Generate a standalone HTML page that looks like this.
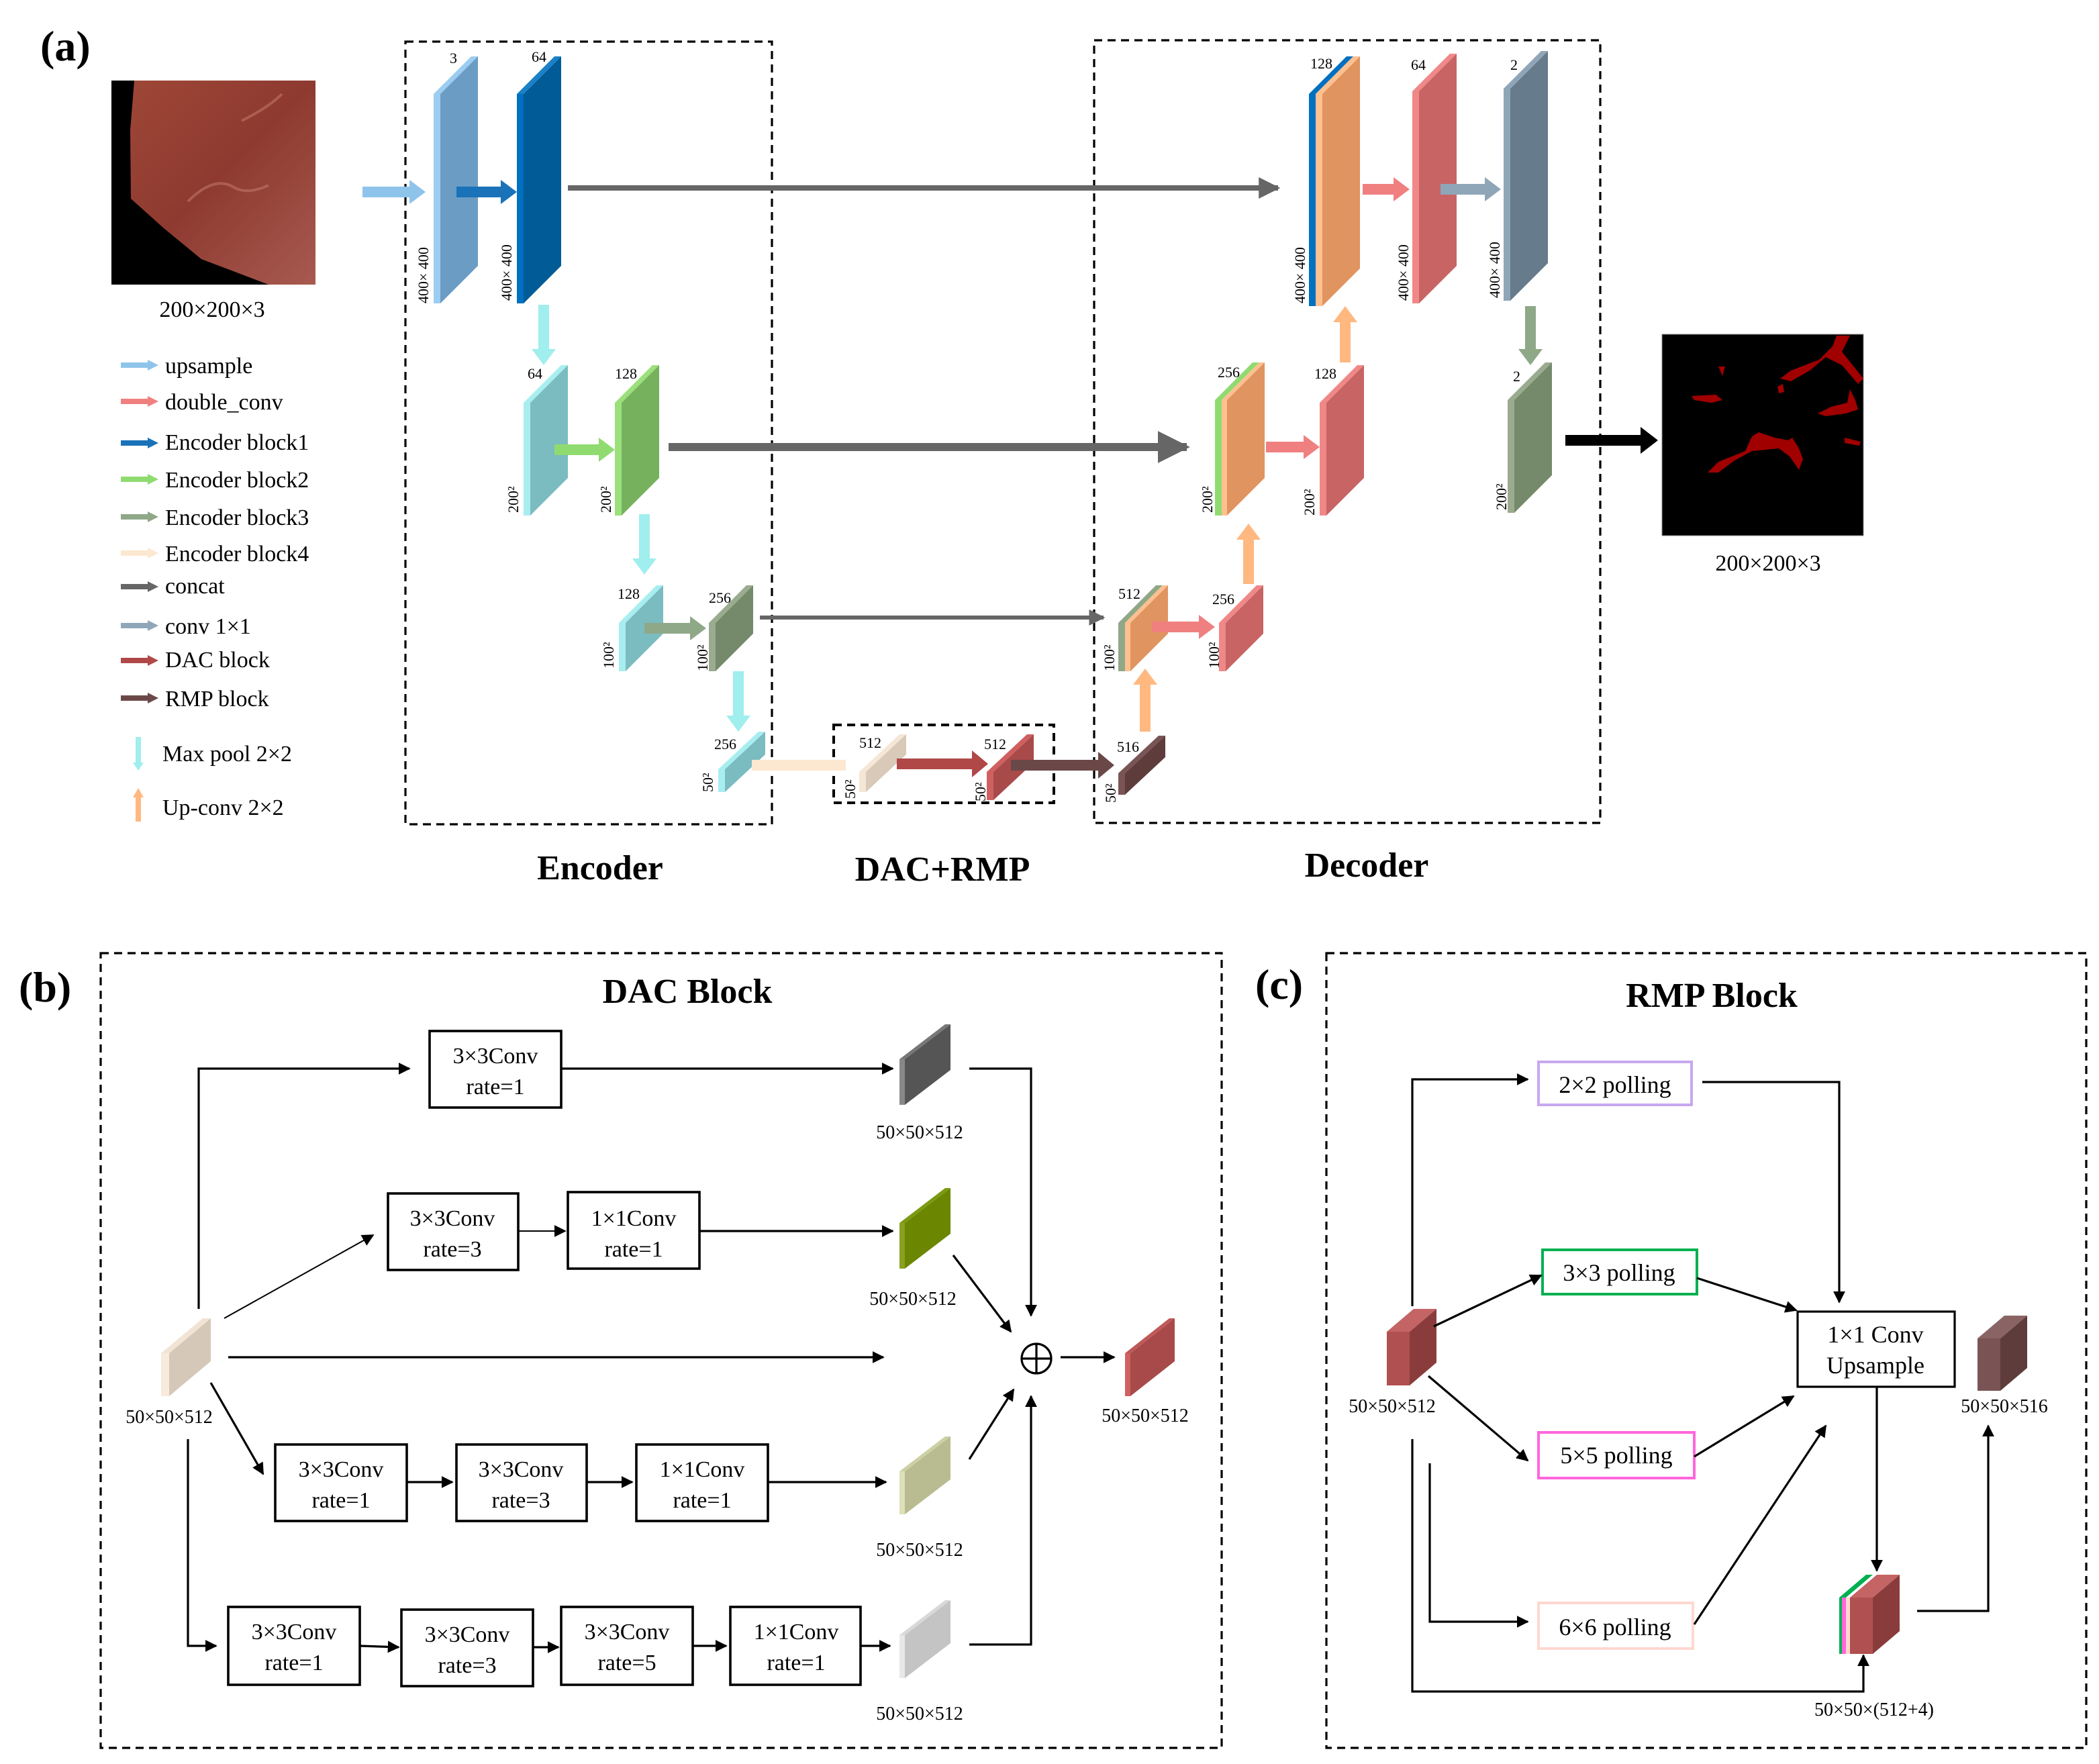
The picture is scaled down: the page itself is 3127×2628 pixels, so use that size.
<!DOCTYPE html>
<html><head><meta charset="utf-8"><style>
html,body{margin:0;padding:0;background:#fff;}
svg{display:block;}
text{font-family:"Liberation Serif",serif;fill:#000;}
</style></head><body>
<svg width="3127" height="2628" viewBox="0 0 1563.5 1314" xmlns="http://www.w3.org/2000/svg">
<defs>
<marker id="ah" viewBox="0 0 10 10" refX="9" refY="5" markerWidth="9" markerHeight="9" markerUnits="userSpaceOnUse" orient="auto"><path d="M0,0 L10,5 L0,10 z" fill="#000"/></marker>
<marker id="ag" viewBox="0 0 10 10" refX="9" refY="5" markerWidth="4" markerHeight="4" orient="auto"><path d="M0,0 L10,5 L0,10 z" fill="#666"/></marker>
<linearGradient id="liver" x1="0" y1="0" x2="1" y2="1"><stop offset="0" stop-color="#a04838"/><stop offset="0.5" stop-color="#8e3a30"/><stop offset="1" stop-color="#a85a50"/></linearGradient>
</defs>
<rect width="1563.5" height="1314" fill="#fff"/>

<text x="30" y="45" font-size="32" font-weight="bold">(a)</text>
<rect x="83" y="60" width="152" height="152" fill="url(#liver)"/>
<path d="M83,60 L100,60 L97,97 L97.5,148 L122,170 L150,193 L200,212 L83,212 Z" fill="#000"/>
<path d="M140,150 Q160,130 175,140 Q185,145 200,138 M180,90 Q200,80 210,70" stroke="#c88070" stroke-width="2" fill="none" opacity="0.5"/>
<text x="158" y="236" font-size="17" text-anchor="middle">200×200×3</text>

<g stroke-width="4">
<line x1="90" y1="272" x2="112" y2="272" stroke="#8ec4ea"/><polygon points="110,268 118,272 110,276" fill="#8ec4ea"/>
<line x1="90" y1="299" x2="112" y2="299" stroke="#f08080"/><polygon points="110,295 118,299 110,303" fill="#f08080"/>
<line x1="90" y1="330" x2="112" y2="330" stroke="#1a72b8"/><polygon points="110,326 118,330 110,334" fill="#1a72b8"/>
<line x1="90" y1="357" x2="112" y2="357" stroke="#8fdb70"/><polygon points="110,353 118,357 110,361" fill="#8fdb70"/>
<line x1="90" y1="385" x2="112" y2="385" stroke="#8fa888"/><polygon points="110,381 118,385 110,389" fill="#8fa888"/>
<line x1="90" y1="412" x2="112" y2="412" stroke="#fce8d0"/><polygon points="110,408 118,412 110,416" fill="#fce8d0"/>
<line x1="90" y1="437" x2="112" y2="437" stroke="#666"/><polygon points="110,433 118,437 110,441" fill="#666"/>
<line x1="90" y1="466" x2="112" y2="466" stroke="#8ea6b8"/><polygon points="110,462 118,466 110,470" fill="#8ea6b8"/>
<line x1="90" y1="492" x2="112" y2="492" stroke="#b04848"/><polygon points="110,488 118,492 110,496" fill="#b04848"/>
<line x1="90" y1="520" x2="112" y2="520" stroke="#6b4848"/><polygon points="110,516 118,520 110,524" fill="#6b4848"/>
<line x1="103" y1="549" x2="103" y2="570" stroke="#a0eeee"/><polygon points="99,568 103,574 107,568" fill="#a0eeee"/>
<line x1="103" y1="592" x2="103" y2="612" stroke="#ffb880"/><polygon points="99,594 103,587 107,594" fill="#ffb880"/>
</g>
<g font-size="17">
<text x="123" y="278">upsample</text>
<text x="123" y="305">double_conv</text>
<text x="123" y="335">Encoder block1</text>
<text x="123" y="363">Encoder block2</text>
<text x="123" y="391">Encoder block3</text>
<text x="123" y="418">Encoder block4</text>
<text x="123" y="442">concat</text>
<text x="123" y="472">conv 1×1</text>
<text x="123" y="497">DAC block</text>
<text x="123" y="526">RMP block</text>
<text x="121" y="567">Max pool 2×2</text>
<text x="121" y="607">Up-conv 2×2</text>
</g>

<g fill="none" stroke="#000" stroke-width="1.6" stroke-dasharray="6,4">
<rect x="302" y="31" width="273" height="583"/>
<rect x="815" y="30" width="377" height="583"/>
<rect x="621" y="540" width="164" height="58" stroke-width="2"/>
</g>
<g font-size="26" font-weight="bold" text-anchor="middle">
<text x="447" y="655">Encoder</text>
<text x="702" y="656">DAC+RMP</text>
<text x="1018" y="653">Decoder</text>
</g>

<line x1="423" y1="140" x2="952" y2="140" stroke="#666" stroke-width="4" marker-end="url(#ag)"/>
<line x1="498" y1="333" x2="884" y2="333" stroke="#666" stroke-width="6" marker-end="url(#ag)"/>
<line x1="566" y1="460" x2="822" y2="460" stroke="#666" stroke-width="3" marker-end="url(#ag)"/>

<polygon points="323,70 328,70 328,226 323,226" fill="#9ccdf0"/><polygon points="323,70 351,42 356,42 328,70" fill="#9ccdf0"/><polygon points="328,70 356,42 356,198 328,226" fill="#6b9cc4"/>
<polygon points="385,70 390,70 390,226 385,226" fill="#0070c0"/><polygon points="385,70 413,42 418,42 390,70" fill="#1a80c8"/><polygon points="390,70 418,42 418,198 390,226" fill="#005b96"/>
<polygon points="390,300 395,300 395,384 390,384" fill="#a8eef0"/><polygon points="390,300 418,272 423,272 395,300" fill="#a8eef0"/><polygon points="395,300 423,272 423,356 395,384" fill="#7bbcc0"/>
<polygon points="458,300 463,300 463,384 458,384" fill="#9be07a"/><polygon points="458,300 486,272 491,272 463,300" fill="#9be07a"/><polygon points="463,300 491,272 491,356 463,384" fill="#76b25e"/>
<polygon points="461,464 466,464 466,500 461,500" fill="#a8eef0"/><polygon points="461,464 489,436 494,436 466,464" fill="#a8eef0"/><polygon points="466,464 494,436 494,472 466,500" fill="#7bbcc0"/>
<polygon points="528,464 533,464 533,500 528,500" fill="#9aab90"/><polygon points="528,464 556,436 561,436 533,464" fill="#9aab90"/><polygon points="533,464 561,436 561,472 533,500" fill="#748a6a"/>
<polygon points="535,573 540,573 540,590 535,590" fill="#a8eef0"/><polygon points="535,573 565,545 570,545 540,573" fill="#a8eef0"/><polygon points="540,573 570,545 570,562 540,590" fill="#7bbcc0"/>
<polygon points="640,575 645,575 645,590 640,590" fill="#f5e6d5"/><polygon points="640,575 670,547 675,547 645,575" fill="#f5e6d5"/><polygon points="645,575 675,547 675,562 645,590" fill="#d8c9b8"/>
<polygon points="735,575 740,575 740,596 735,596" fill="#d06060"/><polygon points="735,575 765,547 770,547 740,575" fill="#d06060"/><polygon points="740,575 770,547 770,568 740,596" fill="#a84a4a"/>
<polygon points="833,576 838,576 838,592 833,592" fill="#7a5454"/><polygon points="833,576 863,548 868,548 838,576" fill="#7a5454"/><polygon points="838,576 868,548 868,564 838,592" fill="#5e3c3c"/>
<polygon points="833,464 838,464 838,500 833,500" fill="#8fa888"/><polygon points="833,464 861,436 866,436 838,464" fill="#8fa888"/>
<polygon points="838,464 842,464 842,500 838,500" fill="#ffc090"/><polygon points="838,464 866,436 870,436 842,464" fill="#ffc090"/><polygon points="842,464 870,436 870,472 842,500" fill="#e09460"/>
<polygon points="908,464 913,464 913,500 908,500" fill="#f08888"/><polygon points="908,464 936,436 941,436 913,464" fill="#f08888"/><polygon points="913,464 941,436 941,472 913,500" fill="#c86464"/>
<polygon points="905,298 910,298 910,384 905,384" fill="#8fdb70"/><polygon points="905,298 933,270 938,270 910,298" fill="#8fdb70"/>
<polygon points="910,298 914,298 914,384 910,384" fill="#ffc090"/><polygon points="910,298 938,270 942,270 914,298" fill="#ffc090"/><polygon points="914,298 942,270 942,356 914,384" fill="#e09460"/>
<polygon points="983,300 988,300 988,384 983,384" fill="#f08888"/><polygon points="983,300 1011,272 1016,272 988,300" fill="#f08888"/><polygon points="988,300 1016,272 1016,356 988,384" fill="#c86464"/>
<polygon points="975,70 980,70 980,228 975,228" fill="#0070c0"/><polygon points="975,70 1003,42 1008,42 980,70" fill="#0070c0"/>
<polygon points="980,70 985,70 985,228 980,228" fill="#ffc090"/><polygon points="980,70 1008,42 1013,42 985,70" fill="#ffc090"/><polygon points="985,70 1013,42 1013,200 985,228" fill="#e09460"/>
<polygon points="1052,68 1057,68 1057,226 1052,226" fill="#f08888"/><polygon points="1052,68 1080,40 1085,40 1057,68" fill="#f08888"/><polygon points="1057,68 1085,40 1085,198 1057,226" fill="#c86464"/>
<polygon points="1120,66 1125,66 1125,224 1120,224" fill="#8fa6b8"/><polygon points="1120,66 1148,38 1153,38 1125,66" fill="#8fa6b8"/><polygon points="1125,66 1153,38 1153,196 1125,224" fill="#667b8c"/>
<polygon points="1123,298 1128,298 1128,382 1123,382" fill="#9aab90"/><polygon points="1123,298 1151,270 1156,270 1128,298" fill="#9aab90"/><polygon points="1128,298 1156,270 1156,354 1128,382" fill="#748a6a"/>

<polygon points="270,139 305,139 305,134 317,143 305,152 305,147 270,147" fill="#8ec4ea"/>
<polygon points="340,139 373,139 373,134 385,143 373,152 373,147 340,147" fill="#1a72b8"/>
<polygon points="401,227 409,227 409,260 414,260 405,272 396,260 401,260" fill="#a0eeee"/>
<polygon points="476,383 484,383 484,416 489,416 480,428 471,416 476,416" fill="#a0eeee"/>
<polygon points="546,500 554,500 554,533 559,533 550,545 541,533 546,533" fill="#a0eeee"/>
<polygon points="413,331 446,331 446,326 458,335 446,344 446,339 413,339" fill="#8fdb70"/>
<polygon points="480,464 514,464 514,459 526,468 514,477 514,472 480,472" fill="#8fa888"/>
<rect x="560" y="566" width="70" height="8" fill="#fce8d0"/>
<polygon points="668,565 724,565 724,559 736,569 724,579 724,573 668,573" fill="#b04848"/>
<polygon points="753,566 818,566 818,560 830,570 818,580 818,574 753,574" fill="#6b4848"/>
<polygon points="849,545 857,545 857,510 862,510 853,498 844,510 849,510" fill="#ffb880"/>
<polygon points="926,435 934,435 934,402 939,402 930,390 921,402 926,402" fill="#ffb880"/>
<polygon points="998,270 1006,270 1006,240 1011,240 1002,228 993,240 998,240" fill="#ffb880"/>
<polygon points="858,463 893,463 893,458 905,467 893,476 893,471 858,471" fill="#f08080"/>
<polygon points="943,329 971,329 971,324 983,333 971,342 971,337 943,337" fill="#f08080"/>
<polygon points="1015,137 1038,137 1038,132 1050,141 1038,150 1038,145 1015,145" fill="#f08080"/>
<polygon points="1073,137 1106,137 1106,132 1118,141 1106,150 1106,145 1073,145" fill="#8ea6b8"/>
<polygon points="1136,228 1144,228 1144,260 1149,260 1140,272 1131,260 1136,260" fill="#8fa888"/>
<polygon points="1166,324 1222,324 1222,318 1235,328 1222,338 1222,332 1166,332" fill="#000"/>

<rect x="1238" y="249" width="150" height="150" fill="#000" stroke="#888" stroke-width="0.5"/>
<g fill="#a00000">
<path d="M1272,352 L1280,344 L1300,336 L1305,325 L1310,322 L1322,326 L1332,328 L1335,326 L1340,334 L1343,342 L1340,350 L1333,340 L1325,334 L1305,336 L1292,343 L1280,352 Z"/>
<path d="M1326,282 L1334,276 L1355,268 L1365,258 L1368,250 L1378,250 L1372,262 L1380,272 L1388,282 L1384,286 L1372,272 L1360,266 L1348,276 L1334,284 Z"/>
<path d="M1354,308 L1364,303 L1376,300 L1378,290 L1382,298 L1384,305 L1375,308 L1360,310 Z"/>
<path d="M1260,295 L1278,294 L1283,298 L1275,300 L1262,298 Z"/>
<path d="M1280,273 L1285,273 L1283,280 Z"/>
<path d="M1324,288 L1328,286 L1329,292 L1325,293 Z"/>
<path d="M1374,326 L1386,329 L1385,332 L1374,330 Z"/>
</g>
<text x="1317" y="425" font-size="17" text-anchor="middle">200×200×3</text>

<g font-size="11">
<text x="335" y="47">3</text><text x="396" y="46">64</text>
<text x="393" y="282">64</text><text x="458" y="282">128</text>
<text x="460" y="446">128</text><text x="528" y="449">256</text>
<text x="532" y="558">256</text><text x="640" y="557">512</text><text x="733" y="558">512</text><text x="832" y="560">516</text>
<text x="833" y="446">512</text><text x="903" y="450">256</text>
<text x="907" y="281">256</text><text x="979" y="282">128</text>
<text x="976" y="51">128</text><text x="1051" y="52">64</text><text x="1125" y="52">2</text><text x="1127" y="284">2</text>
</g>
<g font-size="11">
<text transform="translate(319,226) rotate(-90)">400× 400</text>
<text transform="translate(381,224) rotate(-90)">400× 400</text>
<text transform="translate(386,382) rotate(-90)">200²</text>
<text transform="translate(455,382) rotate(-90)">200²</text>
<text transform="translate(457,498) rotate(-90)">100²</text>
<text transform="translate(527,500) rotate(-90)">100²</text>
<text transform="translate(531,590) rotate(-90)">50²</text>
<text transform="translate(637,595) rotate(-90)">50²</text>
<text transform="translate(734,597) rotate(-90)">50²</text>
<text transform="translate(831,598) rotate(-90)">50²</text>
<text transform="translate(830,500) rotate(-90)">100²</text>
<text transform="translate(908,498) rotate(-90)">100²</text>
<text transform="translate(903,382) rotate(-90)">200²</text>
<text transform="translate(979,384) rotate(-90)">200²</text>
<text transform="translate(972,226) rotate(-90)">400× 400</text>
<text transform="translate(1049,224) rotate(-90)">400× 400</text>
<text transform="translate(1117,222) rotate(-90)">400× 400</text>
<text transform="translate(1122,380) rotate(-90)">200²</text>
</g>

<text x="14" y="746" font-size="32" font-weight="bold">(b)</text>
<rect x="75" y="710" width="835" height="592" fill="none" stroke="#000" stroke-width="1.6" stroke-dasharray="6,4"/>
<text x="512" y="747" font-size="26" font-weight="bold" text-anchor="middle">DAC Block</text>
<g fill="#fff" stroke="#000" stroke-width="1.8">
<rect x="320" y="768" width="98" height="57"/>
<rect x="289" y="889" width="97" height="57"/>
<rect x="423" y="888" width="98" height="57"/>
<rect x="205" y="1076" width="98" height="57"/>
<rect x="340" y="1076" width="97" height="57"/>
<rect x="474" y="1076" width="98" height="57"/>
<rect x="170" y="1197" width="98" height="58"/>
<rect x="299" y="1199" width="98" height="57"/>
<rect x="418" y="1197" width="98" height="58"/>
<rect x="544" y="1197" width="97" height="58"/>
</g>
<g font-size="17" text-anchor="middle">
<text x="369" y="792">3×3Conv</text><text x="369" y="815">rate=1</text>
<text x="337" y="913">3×3Conv</text><text x="337" y="936">rate=3</text>
<text x="472" y="913">1×1Conv</text><text x="472" y="936">rate=1</text>
<text x="254" y="1100">3×3Conv</text><text x="254" y="1123">rate=1</text>
<text x="388" y="1100">3×3Conv</text><text x="388" y="1123">rate=3</text>
<text x="523" y="1100">1×1Conv</text><text x="523" y="1123">rate=1</text>
<text x="219" y="1221">3×3Conv</text><text x="219" y="1244">rate=1</text>
<text x="348" y="1223">3×3Conv</text><text x="348" y="1246">rate=3</text>
<text x="467" y="1221">3×3Conv</text><text x="467" y="1244">rate=5</text>
<text x="593" y="1221">1×1Conv</text><text x="593" y="1244">rate=1</text>
</g>
<polygon points="670,789 674,789 674,823 670,823" fill="#888"/><polygon points="674,789 708,763 708,797 674,823" fill="#555"/><polygon points="670,789 704,763 708,763 674,789" fill="#777"/>
<polygon points="670,911 674,911 674,945 670,945" fill="#8aa020"/><polygon points="674,911 708,885 708,919 674,945" fill="#6b8600"/><polygon points="670,911 704,885 708,885 674,911" fill="#7a9a10"/>
<polygon points="670,1096 674,1096 674,1128 670,1128" fill="#dde0b8"/><polygon points="674,1096 708,1070 708,1102 674,1128" fill="#b8bc90"/><polygon points="670,1096 704,1070 708,1070 674,1096" fill="#ccd0a4"/>
<polygon points="670,1218 674,1218 674,1250 670,1250" fill="#e8e8e8"/><polygon points="674,1218 708,1192 708,1224 674,1250" fill="#c4c4c4"/><polygon points="670,1218 704,1192 708,1192 674,1218" fill="#d8d8d8"/>
<polygon points="120,1008 126,1008 126,1040 120,1040" fill="#f8eadc"/><polygon points="126,1008 157,982 157,1014 126,1040" fill="#d5c8b8"/><polygon points="120,1008 151,982 157,982 126,1008" fill="#f2e4d4"/>
<polygon points="838,1008 842,1008 842,1040 838,1040" fill="#d06060"/><polygon points="842,1008 875,982 875,1014 842,1040" fill="#a84a4a"/><polygon points="838,1008 871,982 875,982 842,1008" fill="#c05858"/>
<g font-size="14" text-anchor="middle">
<text x="685" y="848">50×50×512</text>
<text x="680" y="972">50×50×512</text>
<text x="685" y="1159">50×50×512</text>
<text x="685" y="1281">50×50×512</text>
<text x="126" y="1060">50×50×512</text>
<text x="853" y="1059">50×50×512</text>
</g>
<g fill="none" stroke="#000" stroke-width="1.6">
<polyline points="148,975 148,796 305,796" marker-end="url(#ah)"/>
<line x1="418" y1="796" x2="665" y2="796" marker-end="url(#ah)"/>
<polyline points="722,796 768,796 768,980" marker-end="url(#ah)"/>
<line x1="167" y1="982" x2="278" y2="920" stroke-width="1" marker-end="url(#ah)"/>
<line x1="386" y1="917" x2="421" y2="917" stroke-width="1" marker-end="url(#ah)"/>
<line x1="521" y1="917" x2="665" y2="917" marker-end="url(#ah)"/>
<line x1="710" y1="935" x2="753" y2="992" marker-end="url(#ah)"/>
<line x1="170" y1="1011" x2="658" y2="1011" marker-end="url(#ah)"/>
<circle cx="772" cy="1012" r="11"/>
<line x1="761" y1="1012" x2="783" y2="1012"/><line x1="772" y1="1001" x2="772" y2="1023"/>
<line x1="790" y1="1011" x2="830" y2="1011" marker-end="url(#ah)"/>
<line x1="157" y1="1030" x2="196" y2="1098" marker-end="url(#ah)"/>
<line x1="303" y1="1104" x2="337" y2="1104" marker-end="url(#ah)"/>
<line x1="437" y1="1104" x2="471" y2="1104" marker-end="url(#ah)"/>
<line x1="572" y1="1104" x2="660" y2="1104" marker-end="url(#ah)"/>
<line x1="722" y1="1087" x2="755" y2="1035" marker-end="url(#ah)"/>
<polyline points="140,1072 140,1226 161,1226" marker-end="url(#ah)"/>
<line x1="268" y1="1226" x2="297" y2="1227" marker-end="url(#ah)"/>
<line x1="397" y1="1227" x2="416" y2="1227" marker-end="url(#ah)"/>
<line x1="516" y1="1226" x2="541" y2="1226" marker-end="url(#ah)"/>
<line x1="641" y1="1226" x2="663" y2="1226" marker-end="url(#ah)"/>
<polyline points="722,1225 768,1225 768,1040" marker-end="url(#ah)"/>
</g>

<text x="935" y="744" font-size="32" font-weight="bold">(c)</text>
<rect x="988" y="710" width="566" height="592" fill="none" stroke="#000" stroke-width="1.6" stroke-dasharray="6,4"/>
<text x="1275" y="750" font-size="26" font-weight="bold" text-anchor="middle">RMP Block</text>
<g fill="#fff" stroke-width="2">
<rect x="1146" y="791" width="114" height="32" stroke="#c8a8f0"/>
<rect x="1149" y="931" width="115" height="33" stroke="#00b050"/>
<rect x="1146" y="1067" width="116" height="34" stroke="#ff66dd"/>
<rect x="1146" y="1194" width="115" height="34" stroke="#ffd8d0"/>
<rect x="1339" y="977" width="117" height="56" stroke="#000" stroke-width="1.6"/>
</g>
<g font-size="18" text-anchor="middle">
<text x="1203" y="814">2×2 polling</text>
<text x="1206" y="954">3×3 polling</text>
<text x="1204" y="1090">5×5 polling</text>
<text x="1203" y="1218">6×6 polling</text>
<text x="1397" y="1000">1×1 Conv</text>
<text x="1397" y="1023">Upsample</text>
</g>
<polygon points="1033,992 1050,992 1050,1032 1033,1032" fill="#b05050"/><polygon points="1050,992 1070,975 1070,1015 1050,1032" fill="#8a3c3c"/><polygon points="1033,992 1053,975 1070,975 1050,992" fill="#c46464"/>
<polygon points="1473,997 1490,997 1490,1036 1473,1036" fill="#7a5454"/><polygon points="1490,997 1510,980 1510,1019 1490,1036" fill="#5e3c3c"/><polygon points="1473,997 1493,980 1510,980 1490,997" fill="#8a6464"/>
<polygon points="1370,1190 1372,1190 1372,1232 1370,1232" fill="#00b050"/>
<polygon points="1372,1190 1375,1190 1375,1232 1372,1232" fill="#ff66dd"/>
<polygon points="1375,1190 1378,1190 1378,1232 1375,1232" fill="#ffd8d0"/>
<polygon points="1370,1190 1390,1173 1395,1173 1375,1190" fill="#00b050"/>
<polygon points="1378,1190 1395,1190 1395,1232 1378,1232" fill="#b05050"/><polygon points="1395,1190 1415,1173 1415,1215 1395,1232" fill="#8a3c3c"/><polygon points="1378,1190 1398,1173 1415,1173 1395,1190" fill="#c46464"/>
<g font-size="14" text-anchor="middle">
<text x="1037" y="1052">50×50×512</text>
<text x="1493" y="1052">50×50×516</text>
<text x="1396" y="1278">50×50×(512+4)</text>
</g>
<g fill="none" stroke="#000" stroke-width="1.6">
<polyline points="1052,973 1052,804 1138,804" marker-end="url(#ah)"/>
<polyline points="1268,806 1370,806 1370,970" marker-end="url(#ah)"/>
<line x1="1068" y1="988" x2="1148" y2="950" marker-end="url(#ah)"/>
<line x1="1264" y1="952" x2="1338" y2="976" marker-end="url(#ah)"/>
<line x1="1064" y1="1025" x2="1138" y2="1088" marker-end="url(#ah)"/>
<line x1="1262" y1="1085" x2="1336" y2="1040" marker-end="url(#ah)"/>
<polyline points="1065,1090 1065,1208 1138,1208" marker-end="url(#ah)"/>
<line x1="1262" y1="1210" x2="1360" y2="1062" marker-end="url(#ah)"/>
<polyline points="1052,1072 1052,1260 1388,1260 1388,1233" marker-end="url(#ah)"/>
<line x1="1398" y1="1033" x2="1398" y2="1170" marker-end="url(#ah)"/>
<polyline points="1428,1200 1481,1200 1481,1062" marker-end="url(#ah)"/>
</g>
</svg>
</body></html>
